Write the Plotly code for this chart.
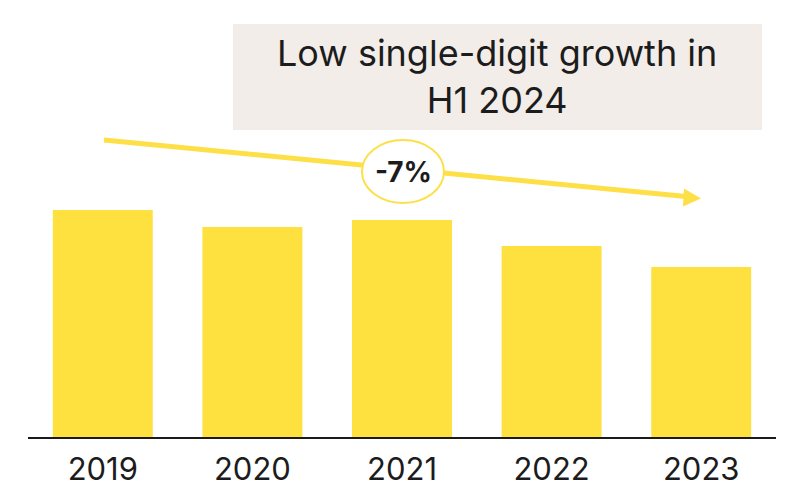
import plotly.graph_objects as go

years = ["2019", "2020", "2021", "2022", "2023"]
index_values = [100.0, 92.5, 95.6, 84.1, 74.9]
title_text = "Low single-digit growth in<br>H1 2024"
change_label = "-7%"

W, H = 788, 488
L, R, T, B = 28, 12, 0, 51
PW, PH = W - L - R, H - T - B

def px(x):
    return (x - L) / PW

def py(y):
    return (H - B - y) / PH

YMAX = 100.0 * PH / 227.0
ARROW = "#FDE047"

fig = go.Figure()
fig.add_trace(go.Bar(x=years, y=index_values, marker=dict(color="#FEE03E", line=dict(width=0)),
                     hoverinfo="skip"))

# title box
fig.add_shape(type="rect", xref="paper", yref="paper", x0=px(233), x1=px(762), y0=py(130), y1=py(24),
              fillcolor="#F2EDE9", line=dict(width=0), layer="below")
# trend arrow shaft
fig.add_shape(type="line", xref="paper", yref="paper", x0=px(104), y0=py(140), x1=px(686), y1=py(196.6),
              line=dict(color=ARROW, width=5), layer="above")
# arrow head
hx, hy = 701, 198.5
p = "M {},{} L {},{} L {},{} Z".format(px(hx), py(hy), px(684), py(188.5), px(683), py(206.5))
fig.add_shape(type="path", xref="paper", yref="paper", path=p, fillcolor=ARROW,
              line=dict(color=ARROW, width=0), layer="above")
# ellipse
fig.add_shape(type="circle", xref="paper", yref="paper", x0=px(362), x1=px(444), y0=py(203), y1=py(140),
              fillcolor="white", line=dict(color=ARROW, width=2), layer="above")

fig.add_annotation(xref="paper", yref="paper", x=px(497), y=py(76), text=title_text, showarrow=False,
                   font=dict(family="Inter", size=36, color="#1c1c1c"), align="center",
                   xanchor="center", yanchor="middle")
fig.add_annotation(xref="paper", yref="paper", x=px(403), y=py(172), text="<b>" + change_label + "</b>",
                   showarrow=False, font=dict(family="Inter", size=28, color="#1c1c1c"),
                   xanchor="center", yanchor="middle")

fig.update_layout(
    width=W, height=H,
    margin=dict(l=L, r=R, t=T, b=B, pad=0),
    paper_bgcolor="white", plot_bgcolor="white",
    bargap=0.332, showlegend=False,
    xaxis=dict(type="category", showline=True, linecolor="#1a1a1a", linewidth=2,
               showgrid=False, zeroline=False, ticks="", ticklabelstandoff=4,
               tickfont=dict(family="Inter", size=31, color="#1c1c1c")),
    yaxis=dict(range=[0, YMAX], visible=False, showgrid=False, zeroline=False),
)

fig.write_html("out.html", config={"displayModeBar": False},
               post_script="document.body.style.margin='0';document.body.style.padding='0';")
